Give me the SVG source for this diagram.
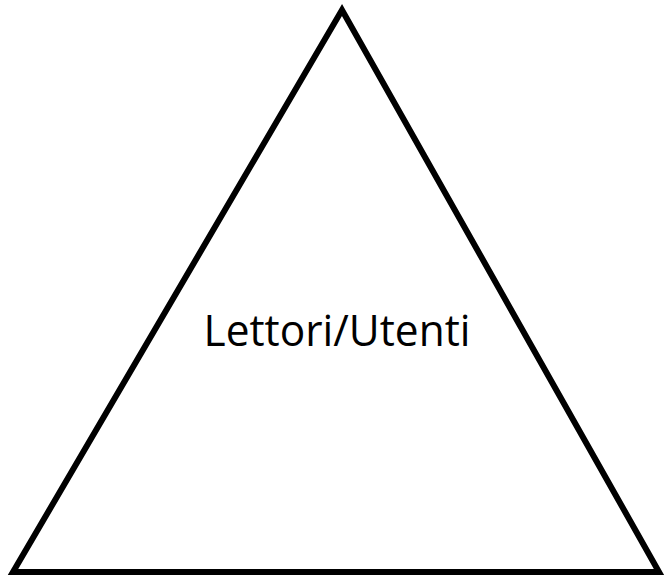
<svg xmlns="http://www.w3.org/2000/svg" width="666" height="577" viewBox="0 0 666 577">
<style>
.shape{fill:#fff;stroke:#000;stroke-width:6;stroke-linejoin:miter}
.lbl{font-family:"Open Sans","Noto Sans",sans-serif;font-size:43px;fill:#000;text-anchor:middle}
</style>
<rect width="666" height="577" fill="#fff"/>
<g id="triangle">
<polygon class="shape" points="342,10 13,572 659,572"/>
<text class="lbl" x="337" y="346" textLength="267" lengthAdjust="spacingAndGlyphs">Lettori/Utenti</text>
</g>
</svg>
